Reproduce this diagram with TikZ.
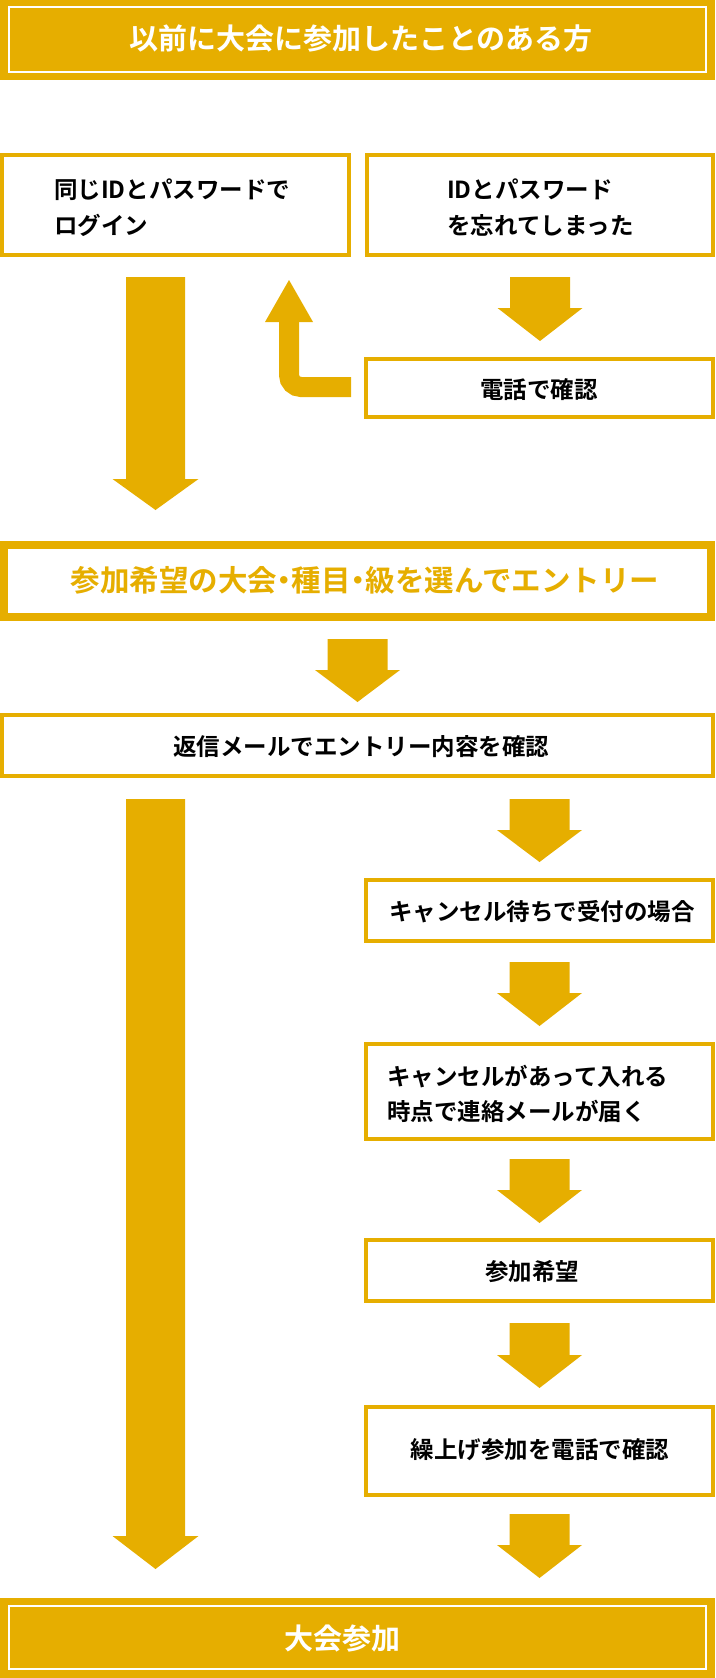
\documentclass[tikz,border=0pt]{standalone}
\usepackage{fontspec}
\newfontfamily\jpb{Noto Sans CJK JP Bold}
\usetikzlibrary{calc}
\definecolor{gold}{RGB}{230,174,0}
\newcommand\blockarrow[5]{%
  \path let \p1=#1, \p2=#2 in
    \pgfextra{}
    [fill=gold] (\x1-#4,\y1) -- (\x1+#4,\y1) -- (\x1+#4,\y2+#3) -- (\x1+#5,\y2+#3)
    -- (\x1,\y2) -- (\x1-#5,\y2+#3) -- (\x1-#4,\y2+#3) -- cycle;}
\newcommand\halfdot{\makebox[0.5em]{・}}
\tikzset{
  box/.style={draw=gold, line width=4pt, outer sep=2pt, fill=white, inner sep=0pt},
  bigbox/.style={draw=gold, line width=8pt, outer sep=4pt, fill=white, inner sep=0pt},
  goldbox/.style={fill=gold, draw=none, outer sep=0pt, inner sep=0pt},
  txt/.style={inner sep=0pt, align=left, text=black, font=\jpb\fontsize{23.5}{35.5}\selectfont},
  titletxt/.style={inner sep=0pt, text=white, font=\jpb\fontsize{29}{34}\selectfont},
  entrytxt/.style={inner sep=0pt, text=gold, font=\jpb\fontsize{29.5}{34}\selectfont}
}
\begin{document}
\begin{tikzpicture}[x=1pt,y=-1pt]
\useasboundingbox (0,0) rectangle (715,1678);
% top title
\node[goldbox, minimum width=715pt, minimum height=80pt] (top) at (357.5,40) {};
\draw[white, line width=1.5pt] (9,7) rectangle (706,72);
\node[titletxt] (toptxt) at (361,38.5) {以前に大会に参加したことのある方};
% boxes row 1
\node[box, minimum width=347pt, minimum height=100pt] (same) at (175.5,205) {};
\node[txt, anchor=west] (sametxt) at (54,207.5) {同じIDとパスワードで\\ログイン};
\node[box, minimum width=346pt, minimum height=100pt] (forgot) at (540,205) {};
\node[txt, anchor=west] (forgottxt) at (447,207.5) {IDとパスワード\\を忘れてしまった};
% tel
\node[box, minimum width=347pt, minimum height=58pt] (tel) at (539.5,388) {};
\node[txt] (teltxt) at (539,390) {電話で確認};
% entry
\node[bigbox, minimum width=707pt, minimum height=72pt] (entry) at (357.5,581) {};
\node[entrytxt] (entrytxt) at (365,580) {参加希望の大会\halfdot 種目\halfdot 級を選んでエントリー};
% reply
\node[box, minimum width=711pt, minimum height=61pt] (reply) at (357.5,745.5) {};
\node[txt] (replytxt) at (361,747) {返信メールでエントリー内容を確認};
% right column
\node[box, minimum width=347pt, minimum height=61pt] (wait) at (539.5,910.5) {};
\node[txt] (waittxt) at (542,912) {キャンセル待ちで受付の場合};
\node[box, minimum width=347pt, minimum height=95pt] (cin) at (539.5,1091.5) {};
\node[txt, anchor=west] (cintxt) at (387,1094) {キャンセルがあって入れる\\時点で連絡メールが届く};
\node[box, minimum width=347pt, minimum height=61pt] (apply) at (539.5,1270.5) {};
\node[txt] (applytxt) at (532,1272) {参加希望};
\node[box, minimum width=347pt, minimum height=88pt] (pconf) at (539.5,1451) {};
\node[txt] (pconftxt) at (540,1450) {繰上げ参加を電話で確認};
% final
\node[goldbox, minimum width=715pt, minimum height=80pt] (final) at (357.5,1638) {};
\draw[white, line width=1.5pt] (9,1606) rectangle (706,1669);
\node[titletxt] (finaltxt) at (342,1638) {大会参加};
% arrows
\blockarrow{($(forgot.south)+(0,20)$)}{($(tel.north)+(0,-16)$)}{33pt}{30pt}{42.5pt}
\blockarrow{($(entry.south)+(0,18)$)}{($(reply.north)+(0,-11)$)}{32pt}{30pt}{42.5pt}
\blockarrow{($(reply.south -| wait.north)+(0,21)$)}{($(wait.north)+(0,-16)$)}{32pt}{30pt}{42.5pt}
\blockarrow{($(wait.south)+(0,19)$)}{($(cin.north)+(0,-16)$)}{33pt}{30pt}{42.5pt}
\blockarrow{($(cin.south)+(0,18)$)}{($(apply.north)+(0,-15)$)}{33pt}{30pt}{42.5pt}
\blockarrow{($(apply.south)+(0,20)$)}{($(pconf.north)+(0,-17)$)}{33pt}{30pt}{42.5pt}
\blockarrow{($(pconf.south)+(0,17)$)}{($(final.north)+(0,-20)$)}{33pt}{30pt}{42.5pt}
\blockarrow{($(same.south)+(-20,20)$)}{($(entry.north)+(0,-31)$)}{31pt}{29.5pt}{43pt}
\blockarrow{($(reply.south)+(-202,21)$)}{($(final.north)+(0,-29)$)}{33pt}{29.5pt}{43pt}
% return arrow
\draw[gold, line width=20pt, rounded corners=12pt] ($(tel.west)+(-13,-1)$) -| ($(same.south east)+(-62,65)$);
\fill[gold] ($(same.south east)+(-86,65)$) -- ($(same.south east)+(-38,65)$) -- ($(same.south east)+(-62,23)$) -- cycle;
\end{tikzpicture}
\end{document}
